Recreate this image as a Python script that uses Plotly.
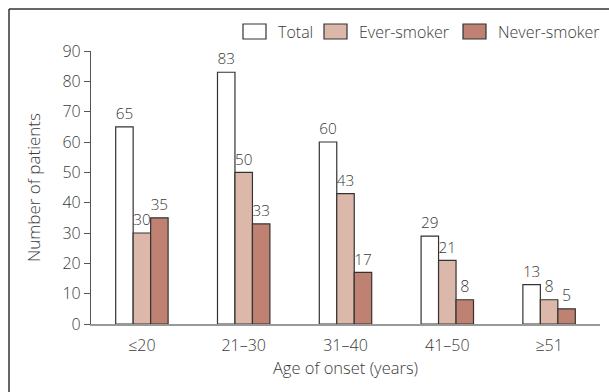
import plotly.graph_objects as go

categories = ["≤20", "21–30", "31–40", "41–50", "≥51"]
total = [65, 83, 60, 29, 13]
ever_smoker = [30, 50, 43, 21, 8]
never_smoker = [35, 33, 17, 8, 5]
y_ticks = [0, 10, 20, 30, 40, 50, 60, 70, 80, 90]

FONT = "Open Sans"
WEIGHT = 300
TEXT = "#3a3a3a"
OUTLINE = "#333333"

series = [
    ("Total", total, "#ffffff"),
    ("Ever-smoker", ever_smoker, "#dcb8aa"),
    ("Never-smoker", never_smoker, "#bf8272"),
]

def f(size):
    return dict(family=FONT, size=size, color=TEXT, weight=WEIGHT)

fig = go.Figure()
for name, vals, color in series:
    fig.add_trace(go.Bar(
        name=name, x=categories, y=vals,
        marker=dict(color=color, line=dict(color=OUTLINE, width=1.2)),
        text=[str(v) for v in vals], textposition="outside",
        textfont=f(16),
        cliponaxis=False, showlegend=False,
    ))

W, H = 609, 392
L, R, T, B = 91, 9, 51, 68
pw, ph = W - L - R, H - T - B

def px_x(x):
    return (x - L) / pw

def px_y(y):
    return (H - B - y) / ph

# open frame around the figure (left and top edges)
frame_x = px_x(9)
frame_y = px_y(9)
fig.add_shape(type="line", xref="paper", yref="paper",
              x0=frame_x, x1=frame_x, y0=px_y(H + 10), y1=frame_y,
              line=dict(color="#333333", width=1.5))
fig.add_shape(type="line", xref="paper", yref="paper",
              x0=frame_x, x1=px_x(W + 10), y0=frame_y, y1=frame_y,
              line=dict(color="#333333", width=1.5))

# legend row: swatch left edge per series, swatch size 24x15
legend_left = [243, 324, 463]
for (name, _, color), lx in zip(series, legend_left):
    fig.add_shape(type="rect", xref="paper", yref="paper",
                  x0=px_x(lx), x1=px_x(lx + 23), y0=px_y(39), y1=px_y(24),
                  fillcolor=color, line=dict(color=OUTLINE, width=1.2))
    fig.add_annotation(xref="paper", yref="paper", x=px_x(lx + 33), y=px_y(31.5),
                       xanchor="left", yanchor="middle", showarrow=False,
                       text=name, font=f(16))

fig.update_layout(
    width=W, height=H,
    margin=dict(l=L, r=R, t=T, b=B),
    paper_bgcolor="white", plot_bgcolor="white",
    barmode="group", bargap=0.485, bargroupgap=0,
    font=f(16),
    showlegend=False,
    xaxis=dict(
        range=[-0.5, 4.5], showline=True, linecolor="#999999", linewidth=1.5,
        ticks="", tickfont=f(16), ticklabelstandoff=6,
        title=dict(text="Age of onset (years)", standoff=6, font=f(16.5)),
        showgrid=False, zeroline=False,
    ),
    yaxis=dict(
        range=[0, 90], tickvals=y_ticks, showline=True, linecolor="#555555",
        linewidth=1.2, ticks="outside", ticklen=6, tickcolor="#555555",
        tickfont=f(16),
        title=dict(text="Number of patients", standoff=17, font=f(17)),
        showgrid=False, zeroline=False,
    ),
)

fig.write_html("out.html")
